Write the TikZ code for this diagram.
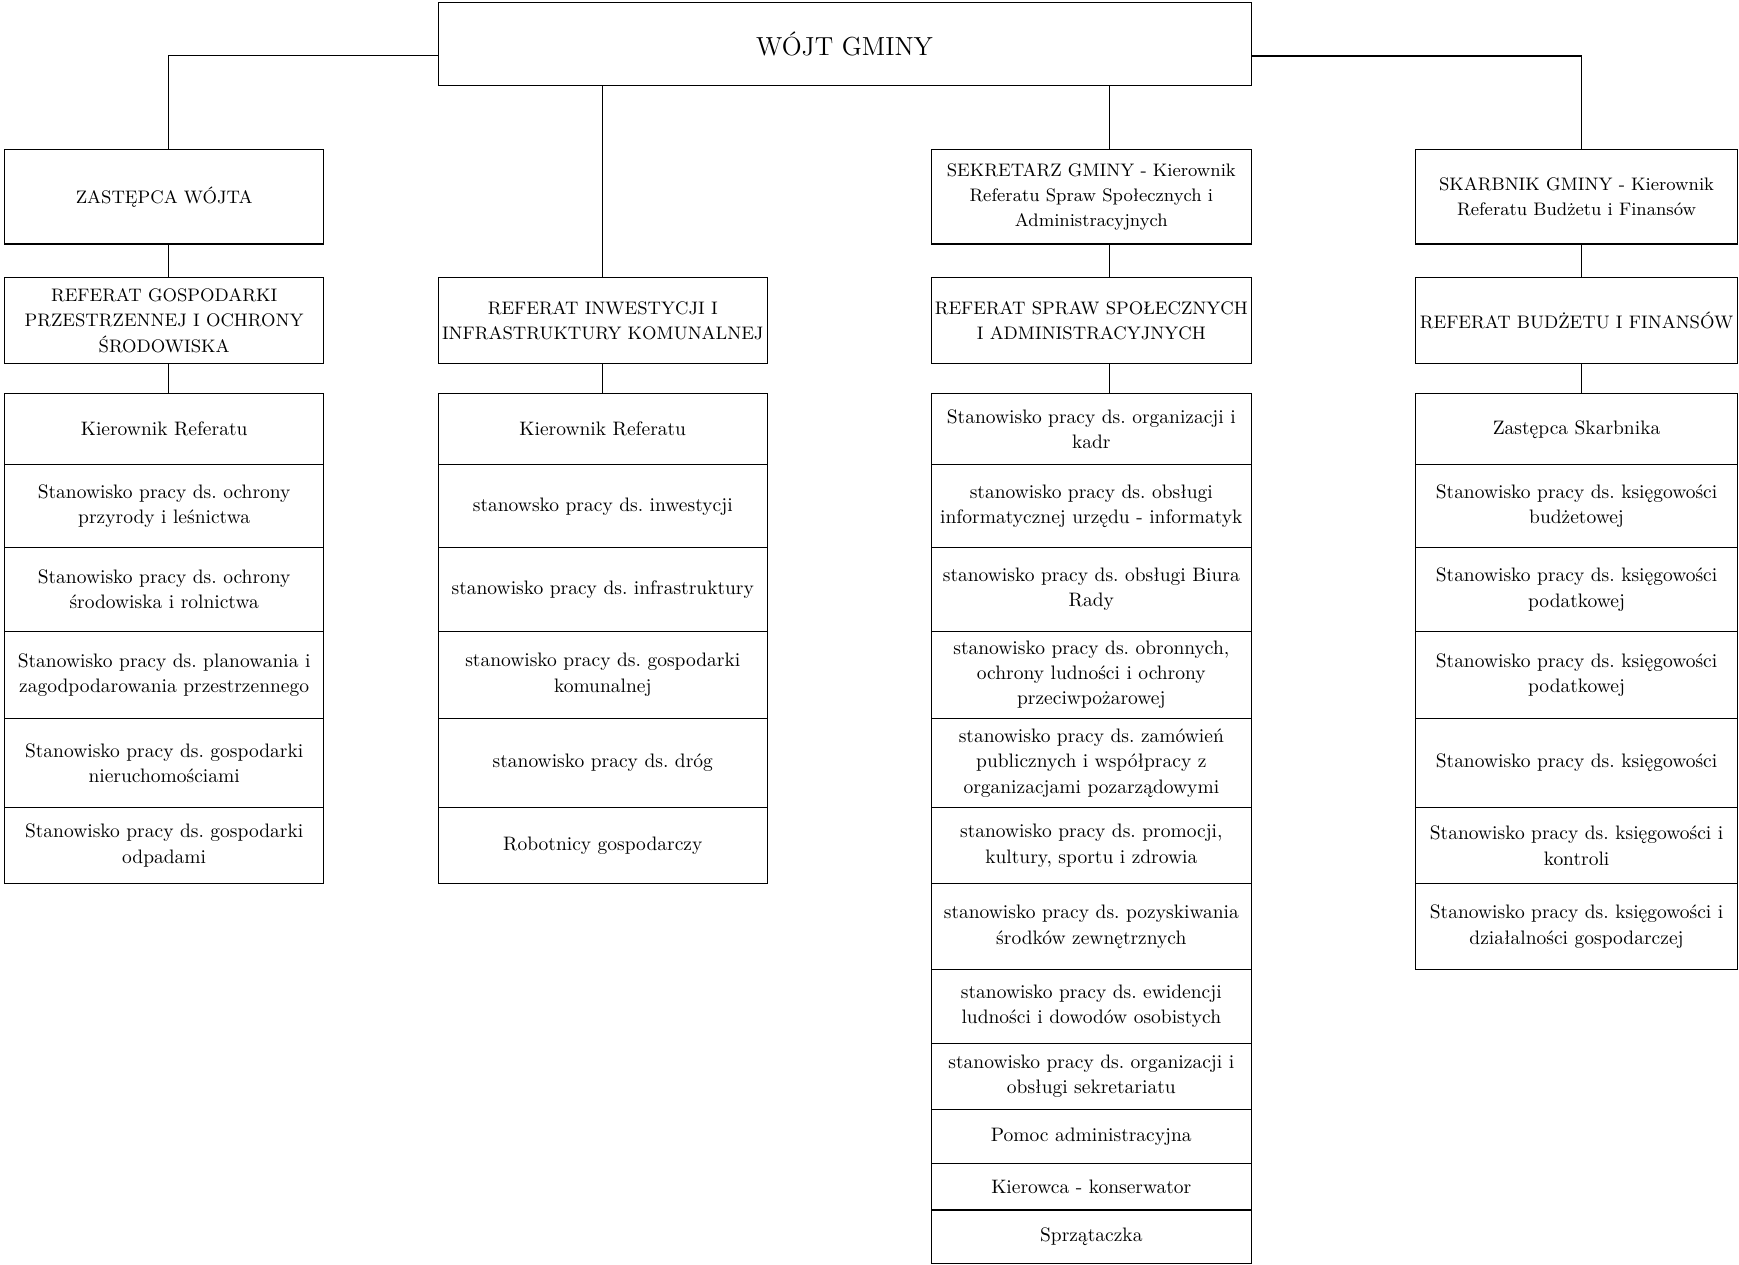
\documentclass[tikz,border=0pt]{standalone}
\usepackage{fontspec}
\usepackage{tikz}
\usetikzlibrary{positioning}
\frenchspacing

\begin{document}
\begin{tikzpicture}[line width=0.55pt, node distance=0pt,
  b/.style={rectangle, draw, outer sep=0pt, inner sep=1pt, align=center,
            font=\fontsize{10}{13}\selectfont},
  h/.style={b, font=\fontsize{9.3}{13}\selectfont, minimum height=#1},
  s/.style={b, minimum height=#1},
  c1/.style={minimum width=5.76cm},
  c2/.style={minimum width=5.94cm},
  c3/.style={minimum width=5.76cm},
  c4/.style={minimum width=5.82cm}]
  \useasboundingbox (0,0) rectangle (31.36,-22.8);

  \node[b, minimum width=14.66cm, minimum height=1.5cm, anchor=north west,
        font=\fontsize{13.4}{16}\selectfont] (wojt) at (7.90,-0.04) {WÓJT GMINY};

  \node[h=1.70cm, c1, anchor=north west] (zast) at (0.08,-2.70) {ZASTĘPCA WÓJTA};
  \node[h=1.56cm, c1, below=0.6cm of zast] (rgp) {REFERAT GOSPODARKI\\PRZESTRZENNEJ I OCHRONY\\ŚRODOWISKA};
  \node[s=1.28cm, c1, below=0.54cm of rgp] (g1) {Kierownik Referatu};
  \node[s=1.50cm, c1, below=of g1] (g2) {Stanowisko pracy ds. ochrony\\przyrody i leśnictwa};
  \node[s=1.50cm, c1, below=of g2] (g3) {Stanowisko pracy ds. ochrony\\środowiska i rolnictwa};
  \node[s=1.58cm, c1, below=of g3] (g4) {Stanowisko pracy ds. planowania i\\zagodpodarowania przestrzennego};
  \node[s=1.60cm, c1, below=of g4] (g5) {Stanowisko pracy ds. gospodarki\\nieruchomościami};
  \node[s=1.38cm, c1, below=of g5] (g6) {Stanowisko pracy ds. gospodarki\\odpadami};

  \node[h=1.56cm, c2, anchor=north west] (rinw) at (7.90,-5.00) {REFERAT INWESTYCJI I\\INFRASTRUKTURY KOMUNALNEJ};
  \node[s=1.28cm, c2, below=0.54cm of rinw] (i1) {Kierownik Referatu};
  \node[s=1.50cm, c2, below=of i1] (i2) {stanowsko pracy ds. inwestycji};
  \node[s=1.50cm, c2, below=of i2] (i3) {stanowisko pracy ds. infrastruktury};
  \node[s=1.58cm, c2, below=of i3] (i4) {stanowisko pracy ds. gospodarki\\komunalnej};
  \node[s=1.60cm, c2, below=of i4] (i5) {stanowisko pracy ds. dróg};
  \node[s=1.38cm, c2, below=of i5] (i6) {Robotnicy gospodarczy};

  \node[h=1.70cm, c3, anchor=north west] (sek) at (16.80,-2.70) {SEKRETARZ GMINY - Kierownik\\Referatu Spraw Społecznych i\\Administracyjnych};
  \node[h=1.56cm, c3, below=0.6cm of sek] (rsp) {REFERAT SPRAW SPOŁECZNYCH\\I ADMINISTRACYJNYCH};
  \node[s=1.28cm, c3, below=0.54cm of rsp] (o1) {Stanowisko pracy ds. organizacji i\\kadr};
  \node[s=1.50cm, c3, below=of o1] (o2) {stanowisko pracy ds. obsługi\\informatycznej urzędu - informatyk};
  \node[s=1.50cm, c3, below=of o2] (o3) {stanowisko pracy ds. obsługi Biura\\Rady};
  \node[s=1.58cm, c3, below=of o3] (o4) {stanowisko pracy ds. obronnych,\\ochrony ludności i ochrony\\przeciwpożarowej};
  \node[s=1.60cm, c3, below=of o4] (o5) {stanowisko pracy ds. zamówień\\publicznych i współpracy z\\organizacjami pozarządowymi};
  \node[s=1.38cm, c3, below=of o5] (o6) {stanowisko pracy ds. promocji,\\kultury, sportu i zdrowia};
  \node[s=1.54cm, c3, below=of o6] (o7) {stanowisko pracy ds. pozyskiwania\\środków zewnętrznych};
  \node[s=1.34cm, c3, below=of o7] (o8) {stanowisko pracy ds. ewidencji\\ludności i dowodów osobistych};
  \node[s=1.18cm, c3, below=of o8] (o9) {stanowisko pracy ds. organizacji i\\obsługi sekretariatu};
  \node[s=0.98cm, c3, below=of o9] (o10) {Pomoc administracyjna};
  \node[s=0.84cm, c3, below=of o10] (o11) {Kierowca - konserwator};
  \node[s=0.96cm, c3, below=of o11] (o12) {Sprzątaczka};

  \node[h=1.70cm, c4, anchor=north west] (skarb) at (25.52,-2.70) {SKARBNIK GMINY - Kierownik\\Referatu Budżetu i Finansów};
  \node[h=1.56cm, c4, below=0.6cm of skarb] (rbf) {REFERAT BUDŻETU I FINANSÓW};
  \node[s=1.28cm, c4, below=0.54cm of rbf] (f1) {Zastępca Skarbnika};
  \node[s=1.50cm, c4, below=of f1] (f2) {Stanowisko pracy ds. księgowości\\budżetowej};
  \node[s=1.50cm, c4, below=of f2] (f3) {Stanowisko pracy ds. księgowości\\podatkowej};
  \node[s=1.58cm, c4, below=of f3] (f4) {Stanowisko pracy ds. księgowości\\podatkowej};
  \node[s=1.60cm, c4, below=of f4] (f5) {Stanowisko pracy ds. księgowości};
  \node[s=1.38cm, c4, below=of f5] (f6) {Stanowisko pracy ds. księgowości i\\kontroli};
  \node[s=1.54cm, c4, below=of f6] (f7) {Stanowisko pracy ds. księgowości i\\działalności gospodarczej};

  \coordinate (x1) at ([xshift=0.08cm]zast.north);
  \coordinate (x3) at ([xshift=0.32cm]sek.north);
  \coordinate (x4) at ([xshift=0.09cm]skarb.north);
  \draw ([yshift=-0.21cm]wojt.west) -| (x1);
  \draw ([yshift=-0.22cm]wojt.east) -| (x4);
  \draw (wojt.south -| rinw.north) -- (rinw.north);
  \draw (wojt.south -| x3) -- (x3);
  \draw (x1 |- zast.south) -- (x1 |- rgp.north);
  \draw (x1 |- rgp.south) -- (x1 |- g1.north);
  \draw (rinw.south) -- (i1.north);
  \draw (x3 |- sek.south) -- (x3 |- rsp.north);
  \draw (x3 |- rsp.south) -- (x3 |- o1.north);
  \draw (x4 |- skarb.south) -- (x4 |- rbf.north);
  \draw (x4 |- rbf.south) -- (x4 |- f1.north);
\end{tikzpicture}
\end{document}
